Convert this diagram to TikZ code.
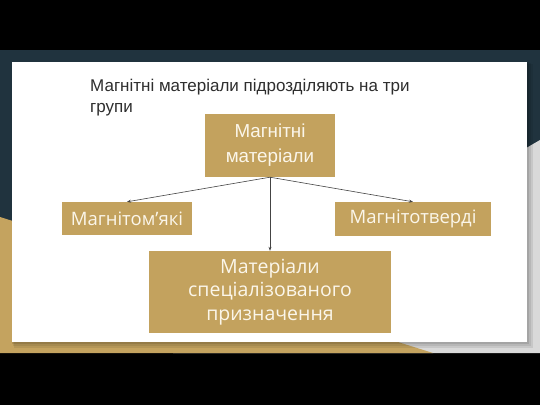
\documentclass[tikz,border=0pt]{standalone}
\usepackage{fontspec}
\setmainfont{Liberation Sans}
\newfontfamily\boxfont{Open Sans}
\newfontfamily\arialfont{Liberation Sans}
\usetikzlibrary{arrows.meta}
\definecolor{slate}{HTML}{20333E}
\definecolor{goldbg}{HTML}{C4A35F}
\definecolor{goldbox}{HTML}{C3A25E}
\definecolor{boxtext}{HTML}{FBF6EA}
\definecolor{titletext}{HTML}{2E2E2E}
\definecolor{greybg}{HTML}{D9D9D9}
\definecolor{arrowc}{HTML}{444444}
\tikzset{
  goldnode/.style={fill=goldbox, draw=none, text=boxtext, inner sep=0pt, align=center},
  conn/.style={draw=arrowc, line width=0.6pt, -{Stealth[length=4pt,width=3pt]}},
}
\begin{document}
\begin{tikzpicture}[x=1pt,y=-1pt]
\useasboundingbox (0,0) rectangle (540,405);
% background
\fill[black] (0,0) rectangle (540,405);
\fill[slate] (0,50) rectangle (540,353);
\fill[greybg] (540,140) -- (540,353) -- (173,353) -- cycle;
\fill[goldbg] (0,217) -- (433,353) -- (0,353) -- cycle;
% slide shadow
\fill[black,opacity=0.08] (14,64) rectangle (533,348);
\fill[black,opacity=0.08] (13,63) rectangle (531,346);
\fill[black,opacity=0.10] (12,62) rectangle (529,344);
% slide
\fill[white] (12,62) rectangle (527,342);
% title
\node[anchor=base west, text=titletext, font=\fontsize{17}{21}\selectfont, align=left, inner sep=0pt]
  (title) at (90,112) {Магнітні матеріали підрозділяють на три\\групи};
% boxes
\node[goldnode, minimum width=130pt, minimum height=63pt,
  font=\arialfont\fontsize{18.8}{25}\selectfont] (top) at (270,145.5) {Магнітні\\матеріали};
\node[goldnode, minimum width=130pt, minimum height=33pt,
  font=\boxfont\fontsize{18.5}{23}\selectfont] (left) at (127,218.5) {Магнітом’які};
\node[goldnode, minimum width=156pt, minimum height=34pt,
  font=\boxfont\fontsize{18.5}{23}\selectfont] (right) at (413,219) {Магнітотверді};
\node[goldnode, minimum width=242pt, minimum height=82pt,
  font=\boxfont\fontsize{19.5}{23.2}\selectfont] (bottom) at (270,292) {Матеріали\\спеціалізованого\\призначення};
% connectors
\draw[conn] (top.south) -- (left.north);
\draw[conn] (top.south) -- (right.north);
\draw[conn] (top.south) -- (bottom.north);
\end{tikzpicture}
\end{document}
